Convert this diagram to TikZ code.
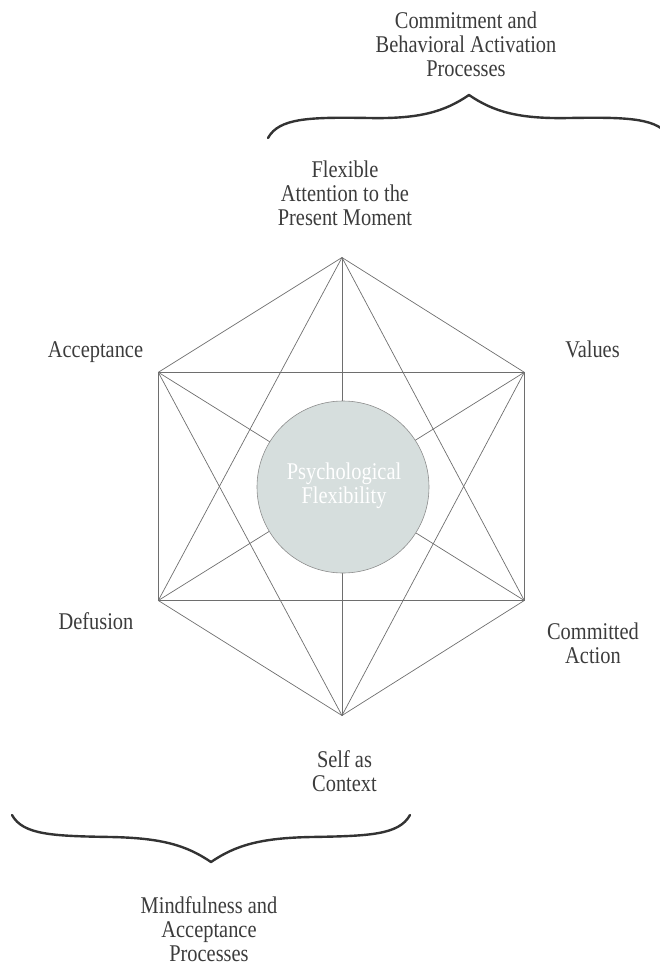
\documentclass[tikz,border=0pt]{standalone}
\usepackage{fontspec}
\setmainfont{Liberation Serif}[FakeStretch=0.85]
\begin{document}
\begin{tikzpicture}[x=1pt,y=-1pt,
  every node/.style={inner sep=0pt, outer sep=0pt},
  label/.style={font=\fontsize{24}{24}\selectfont, text=labelgray, align=center, anchor=base},
  link/.style={draw=linkgray, line width=0.7pt},
  bracket/.style={draw=bracegray, line width=2.4pt, line cap=round, line join=round},
  hub/.style={circle, fill=hubfill, draw=hubedge, line width=0.6pt, minimum size=172pt}
]
\definecolor{labelgray}{HTML}{3C3C3C}
\definecolor{linkgray}{HTML}{6E6E6E}
\definecolor{bracegray}{HTML}{333333}
\definecolor{hubfill}{HTML}{D6DEDD}
\definecolor{hubedge}{HTML}{8C8C8C}

\useasboundingbox (0,0) rectangle (659,969);

% the six processes, at the corners of a hexagon
\coordinate (T)  at (342,257.5);
\coordinate (UR) at (524.3,372.3);
\coordinate (LR) at (524.3,600.5);
\coordinate (B)  at (342,715.5);
\coordinate (LL) at (158.3,600.5);
\coordinate (UL) at (158.3,372.3);

% every process is linked to every other one
\foreach \a/\b in {T/UR,T/LR,T/B,T/LL,T/UL,
                   UR/LR,UR/B,UR/LL,UR/UL,
                   LR/B,LR/LL,LR/UL,
                   B/LL,B/UL,
                   LL/UL}
  \draw[link] (\a) -- (\b);

% central circle
\node[hub] (hub) at (343,487) {};
\node[label, text=white] (psych) at (344,503) {Psychological\\Flexibility};

% process labels (anchored at the baseline of their last line)
\node[label] (flex)      at (345,225.5) {Flexible\\Attention to the\\Present Moment};
\node[label] (accept)    at (95.5,357)  {Acceptance};
\node[label] (values)    at (592.5,357) {Values};
\node[label] (defusion)  at (96,629)    {Defusion};
\node[label] (committed) at (593,663.5) {Committed\\Action};
\node[label] (self)      at (344.5,791) {Self as\\Context};

% group labels
\node[label] (commit)  at (466,76)  {Commitment and\\Behavioral Activation\\Processes};
\node[label] (mindful) at (209,961) {Mindfulness and\\Acceptance\\Processes};

% braces grouping the processes
\coordinate (topTip) at (469,95);
\draw[bracket] (268,138) .. controls (279,118) and (309,117) .. (369,118)
  .. controls (419,119) and (444,112) .. (topTip)
  .. controls (494,112) and (519,119) .. (569,118)
  .. controls (629,117) and (659,118) .. (670,138);
\coordinate (botTip) at (211,862);
\draw[bracket] (12,815) .. controls (23,835) and (53,836) .. (111,837)
  .. controls (161,838) and (186,845) .. (botTip)
  .. controls (236,845) and (261,838) .. (311,837)
  .. controls (369,836) and (399,835) .. (410,815);
\end{tikzpicture}
\end{document}
